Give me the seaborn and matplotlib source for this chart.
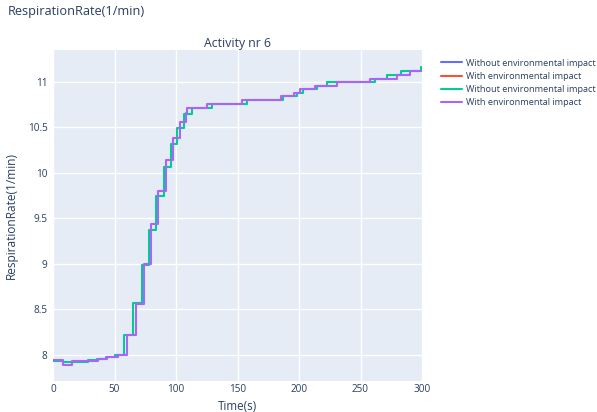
import matplotlib
matplotlib.use("Agg")
import matplotlib.pyplot as plt
import seaborn as sns
import pandas as pd

# --- data ---
t_without = [0, 8, 28.7, 35.5, 43, 50.4, 58, 65.3, 72, 78.2, 84, 90.2, 95.7, 101, 106.8,
             112.7, 129.5, 157.4, 187.2, 198.2, 203.5, 214.4, 222.5, 261.8, 271.8, 282.7, 299, 300]
v_without = [7.93, 7.92, 7.94, 7.96, 7.98, 8.0, 8.22, 8.57, 8.99, 9.37, 9.745, 10.07, 10.32, 10.49, 10.65,
             10.715, 10.755, 10.80, 10.84, 10.88, 10.925, 10.96, 11.0, 11.035, 11.08, 11.12, 11.16, 11.16]

t_with = [0, 7.9, 15.2, 36.8, 43.6, 53, 60, 67.5, 73.8, 79.8, 85, 91.6, 97.3, 103.3, 108.1,
          109.2, 125.5, 153.4, 185.2, 196, 201.2, 213, 230.6, 257.7, 279.4, 290.5, 300]
v_with = [7.945, 7.895, 7.935, 7.955, 7.975, 8.0, 8.22, 8.565, 9.0, 9.44, 9.80, 10.145, 10.38, 10.56, 10.655,
          10.715, 10.755, 10.80, 10.84, 10.88, 10.925, 10.96, 11.0, 11.035, 11.08, 11.12, 11.12]

x_ticks = [0, 50, 100, 150, 200, 250, 300]
y_ticks = [8, 8.5, 9, 9.5, 10, 10.5, 11]
y_tick_labels = ["8", "8.5", "9", "9.5", "10", "10.5", "11"]

series_names = ["Without environmental impact", "With environmental impact",
                "Without environmental impact", "With environmental impact"]
colors = ["#636efa", "#EF553B", "#00cc96", "#ab63fa"]

# --- plot ---
sns.set_theme(style="darkgrid")
plt.rcParams['font.family'] = ['Open Sans', 'DejaVu Sans']
txt = "#2a3f5f"

W, H = 597, 412
fig = plt.figure(figsize=(W / 100, H / 100), dpi=100)
ax = fig.add_axes([53 / W, (H - 381) / H, 369 / W, 331 / H])
ax.set_facecolor("#E5ECF6")

# legend-only traces
for name, c in zip(series_names[:2], colors[:2]):
    ax.plot([], [], color=c, lw=1.5, label=name)

df_wo = pd.DataFrame({"t": t_without, "v": v_without})
df_w = pd.DataFrame({"t": t_with, "v": v_with})
sns.lineplot(data=df_wo, x="t", y="v", drawstyle="steps-post", color=colors[2], lw=1.5,
             estimator=None, sort=False, label=series_names[2], ax=ax)
sns.lineplot(data=df_w, x="t", y="v", drawstyle="steps-post", color=colors[3], lw=1.5,
             estimator=None, sort=False, label=series_names[3], ax=ax)

ax.set_xlim(0, 300)
ax.set_ylim(7.714, 11.35)
ax.set_xticks(x_ticks)
ax.set_xticklabels([str(x) for x in x_ticks])
ax.set_yticks(y_ticks)
ax.set_yticklabels(y_tick_labels)
ax.grid(True, color="white", lw=1)
for s in ax.spines.values():
    s.set_visible(False)
ax.tick_params(axis="both", colors=txt, labelsize=7.2, length=0)
ax.tick_params(axis="x", pad=2)
ax.tick_params(axis="y", pad=4)

ax.set_xlabel("Time(s)", color=txt, fontsize=8.4, labelpad=4)
ax.set_ylabel("RespirationRate(1/min)", color=txt, fontsize=8.6, labelpad=7)
ax.set_title("Activity nr 6", color=txt, fontsize=8.8, pad=2)
fig.text(8 / W, 1 - 12 / H, "RespirationRate(1/min)", color=txt, fontsize=9.2, va="center", ha="left")

leg = ax.legend(loc="upper left", bbox_to_anchor=(1.041, 0.985), frameon=False, fontsize=6.6,
                handlelength=2.3, handletextpad=0.45, labelspacing=0.45, borderaxespad=0)
for t in leg.get_texts():
    t.set_color(txt)

fig.savefig("out.png", dpi=100)
